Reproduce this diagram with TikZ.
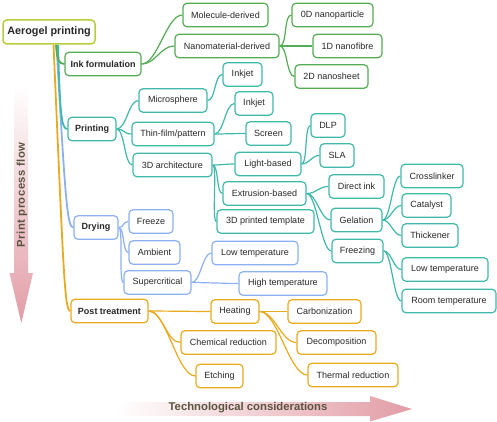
\documentclass[tikz,border=0pt]{standalone}
\usepackage{fontspec}
\setmainfont{Liberation Sans}
\usetikzlibrary{backgrounds}
\definecolor{cgreen}{RGB}{84,172,84}
\definecolor{cteal}{RGB}{64,184,170}
\definecolor{cblue}{RGB}{140,176,240}
\definecolor{corange}{RGB}{232,170,30}
\definecolor{croot}{RGB}{185,205,60}
\definecolor{cpink}{RGB}{226,156,166}
\definecolor{ctext}{RGB}{40,40,40}
\definecolor{carrowtxt}{RGB}{90,85,65}
\newcommand\mmlink[4][10]{\draw[#2] (#3.east) .. controls +(#1,0) and +(-#1,0) .. (#4.west);}
\begin{document}
\begin{tikzpicture}[x=1pt,y=-1pt,
  box/.style={draw, rounded corners=4pt, line width=1.2pt, fill=white, minimum height=23.5pt,
    inner sep=0pt, text=ctext, font=\fontsize{9}{10}\selectfont},
  mainbox/.style={box, font=\fontsize{9}{10}\selectfont\bfseries},
  gbox/.style={box, draw=cgreen},
  tbox/.style={box, draw=cteal},
  bbox/.style={box, draw=cblue},
  obox/.style={box, draw=corange},
  gl/.style={draw=cgreen, line width=1.2pt},
  tl/.style={draw=cteal, line width=1.2pt},
  bl/.style={draw=cblue, line width=1.2pt},
  ol/.style={draw=corange, line width=1.2pt},
  rootline/.style={line width=1.8pt},
  arrtxt/.style={text=carrowtxt, font=\fontsize{11.3}{12}\selectfont\bfseries, inner sep=0pt}
]
\useasboundingbox (0,0) rectangle (497,422);

% root and main branches
\node[box, draw=croot, line width=1.5pt, minimum width=92pt, minimum height=24pt,
  font=\fontsize{10.8}{12}\selectfont\bfseries] (root) at (49,32) {Aerogel printing};
\node[mainbox, draw=cgreen, minimum width=76pt] (ink) at (103,64) {Ink formulation};
\node[mainbox, draw=cteal, minimum width=48pt] (print) at (92,129) {Printing};
\node[mainbox, draw=cblue, minimum width=44pt] (dry) at (96,227.5) {Drying};
\node[mainbox, draw=corange, minimum width=77pt] (post) at (109.5,311) {Post treatment};

% ink formulation
\node[gbox, minimum width=85pt] (mol) at (225.5,15) {Molecule-derived};
\node[gbox, minimum width=104pt] (nano) at (227,46) {Nanomaterial-derived};
\node[gbox, minimum width=81pt] (d0) at (332.5,15) {0D nanoparticle};
\node[gbox, minimum width=69pt] (d1) at (347.5,46) {1D nanofibre};
\node[gbox, minimum width=73pt] (d2) at (331.5,76.5) {2D nanosheet};

% printing
\node[tbox, minimum width=68pt] (micro) at (173,100.5) {Microsphere};
\node[tbox, minimum width=82pt] (thin) at (173,134) {Thin-film/pattern};
\node[tbox, minimum width=79pt] (arch) at (172.5,165) {3D architecture};
\node[tbox, minimum width=39pt] (ink1) at (242.5,74.5) {Inkjet};
\node[tbox, minimum width=38pt] (ink2) at (254,103.5) {Inkjet};
\node[tbox, minimum width=45pt] (screen) at (268.5,133.5) {Screen};
\node[tbox, minimum width=66pt] (light) at (268,164) {Light-based};
\node[tbox, minimum width=83pt] (extr) at (264.5,193.5) {Extrusion-based};
\node[tbox, minimum width=97pt] (templ) at (265.5,221.5) {3D printed template};
\node[tbox, minimum width=34pt] (dlp) at (328,125.5) {DLP};
\node[tbox, minimum width=34pt] (sla) at (337,155.5) {SLA};
\node[tbox, minimum width=55pt] (direct) at (356.5,186.5) {Direct ink};
\node[tbox, minimum width=51pt] (gel) at (356.5,220) {Gelation};
\node[tbox, minimum width=51pt] (freez) at (357.5,251) {Freezing};
\node[tbox, minimum width=62pt] (cross) at (432,176) {Crosslinker};
\node[tbox, minimum width=49pt] (cata) at (426.5,205.5) {Catalyst};
\node[tbox, minimum width=56pt] (thick) at (430,235.5) {Thickener};
\node[tbox, minimum width=86pt] (lowt) at (445,269.5) {Low temperature};
\node[tbox, minimum width=94pt] (roomt) at (449,301) {Room temperature};

% drying
\node[bbox, minimum width=44pt] (freeze) at (151,221.5) {Freeze};
\node[bbox, minimum width=51pt] (amb) at (154.5,252.5) {Ambient};
\node[bbox, minimum width=67pt] (super) at (157.5,282.5) {Supercritical};
\node[bbox, minimum width=86pt] (lowb) at (255,253) {Low temperature};
\node[bbox, minimum width=88pt] (highb) at (283,283.5) {High temperature};

% post treatment
\node[obox, minimum width=48pt] (heat) at (235,311.5) {Heating};
\node[obox, minimum width=95pt] (chem) at (228.5,342.5) {Chemical reduction};
\node[obox, minimum width=47pt] (etch) at (219.5,376) {Etching};
\node[obox, minimum width=73pt] (carb) at (324.5,311.5) {Carbonization};
\node[obox, minimum width=79pt] (decomp) at (336.5,342.5) {Decomposition};
\node[obox, minimum width=90pt] (thermal) at (353,375) {Thermal reduction};

% arrow labels
\node[arrtxt, rotate=90] (vlabel) at (22,195) {\addfontfeature{LetterSpace=4}Print process flow};
\node[arrtxt] (hlabel) at (248,408) {Technological considerations};

\begin{scope}[on background layer]
  % background arrows
  \shade[top color=white, middle color=cpink!55, bottom color=cpink]
    (14,86) -- (28,86) -- (28,273) -- (33,273) -- (21.3,323) -- (9.5,273) -- (14,273) -- cycle;
  \shade[left color=white, middle color=cpink!55, right color=cpink]
    (116,402) -- (370,402) -- (370,396) -- (412,409) -- (370,421.5) -- (370,416) -- (116,416) -- cycle;

  % root connectors
  \coordinate (rg) at ([xshift=7pt]root.south);
  \coordinate (rt) at ([xshift=9pt]root.south);
  \coordinate (rb) at ([xshift=7.5pt]root.south);
  \coordinate (ro) at ([xshift=4.5pt]root.south);
  \draw[ol, rootline] (ro) .. controls +(10,226) and +(-6,0) .. (post.west);
  \draw[bl, rootline] (rb) .. controls +(9,160) and +(-6,0) .. (dry.west);
  \draw[tl, rootline] (rt) .. controls +(2,70) and +(-6,0) .. (print.west);
  \draw[gl, rootline] (rg) .. controls +(1,14) and +(-6,0) .. (ink.west);

  % ink formulation
  \mmlink[16]{gl}{ink}{mol}
  \mmlink[14]{gl}{ink}{nano}
  \mmlink[8]{gl}{nano}{d0}
  \mmlink[8]{gl}{nano}{d1}
  \mmlink[8]{gl}{nano}{d2}

  % printing
  \mmlink[10]{tl}{print}{micro}
  \mmlink[8]{tl}{print}{thin}
  \mmlink[8]{tl}{print}{arch}
  \mmlink[8]{tl}{micro}{ink1}
  \mmlink[9]{tl}{thin}{ink2}
  \mmlink[9]{tl}{thin}{screen}
  \mmlink[8]{tl}{arch}{light}
  \mmlink[6]{tl}{arch}{extr}
  \mmlink[5]{tl}{arch}{templ}
  \mmlink[6]{tl}{light}{dlp}
  \mmlink[8]{tl}{light}{sla}
  \mmlink[10]{tl}{extr}{direct}
  \mmlink[10]{tl}{extr}{gel}
  \mmlink[10]{tl}{extr}{freez}
  \mmlink[8]{tl}{gel}{cross}
  \mmlink[8]{tl}{gel}{cata}
  \mmlink[8]{tl}{gel}{thick}
  \mmlink[8]{tl}{freez}{lowt}
  \mmlink[8]{tl}{freez}{roomt}

  % drying
  \mmlink[6]{bl}{dry}{freeze}
  \mmlink[6]{bl}{dry}{amb}
  \mmlink[5]{bl}{dry}{super}
  \mmlink[9]{bl}{super}{lowb}
  \mmlink[9]{bl}{super}{highb}

  % post treatment
  \mmlink[10]{ol}{post}{heat}
  \mmlink[14]{ol}{post}{chem}
  \mmlink[18]{ol}{post}{etch}
  \mmlink[10]{ol}{heat}{carb}
  \mmlink[15]{ol}{heat}{decomp}
  \mmlink[18]{ol}{heat}{thermal}
\end{scope}
\end{tikzpicture}
\end{document}
